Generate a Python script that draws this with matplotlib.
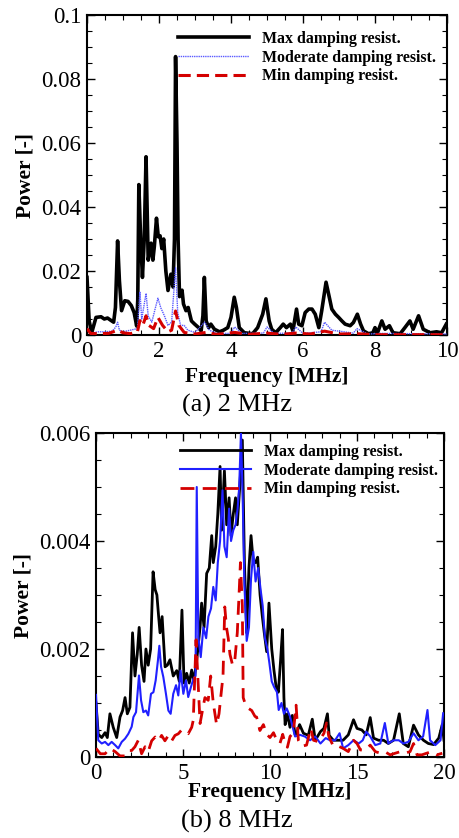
import matplotlib
matplotlib.use("Agg")
import matplotlib.pyplot as plt
from matplotlib.ticker import MultipleLocator

plt.rcParams['font.family'] = ['Liberation Serif', 'DejaVu Serif']

# ---------------- (a) 2 MHz excitation ----------------
a_max_f = [0.00, 0.06, 0.13, 0.25, 0.39, 0.48, 0.57, 0.66, 0.74, 0.79, 0.85, 0.90, 0.96,
           1.05, 1.14, 1.23, 1.31, 1.38, 1.41, 1.44, 1.49, 1.54, 1.59, 1.64, 1.70, 1.78,
           1.83, 1.87, 1.93, 1.98, 2.03, 2.08, 2.13, 2.19, 2.25, 2.33, 2.39, 2.43, 2.46,
           2.50, 2.53, 2.57, 2.64, 2.68, 2.75, 2.81, 2.90, 2.99, 3.10, 3.17, 3.22, 3.26,
           3.31, 3.38, 3.44, 3.54, 3.68, 3.79, 3.91, 4.00, 4.09, 4.15, 4.23, 4.37, 4.60,
           4.74, 4.88, 4.97, 5.06, 5.13, 5.24, 5.37, 5.45, 5.54, 5.65, 5.72, 5.82, 5.88,
           5.97, 6.06, 6.16, 6.25, 6.34, 6.44, 6.52, 6.64, 6.74, 6.80, 6.90, 6.99, 7.08,
           7.17, 7.31, 7.40, 7.51, 7.60, 7.68, 7.82, 7.94, 8.00, 8.07, 8.19, 8.28, 8.40,
           8.50, 8.70, 8.83, 8.97, 9.06, 9.21, 9.34, 9.53, 9.71, 9.85, 9.98]
a_max_p = [0.0180, 0.0044, 0.0007, 0.0055, 0.0057, 0.0050, 0.0053, 0.0046, 0.0040, 0.0086,
           0.0294, 0.0170, 0.0076, 0.0107, 0.0105, 0.0092, 0.0070, 0.0028, 0.0110, 0.0470,
           0.0300, 0.0180, 0.0300, 0.0557, 0.0234, 0.0287, 0.0234, 0.0276, 0.0365, 0.0307,
           0.0310, 0.0270, 0.0300, 0.0200, 0.0139, 0.0190, 0.0150, 0.0300, 0.0870, 0.0600,
           0.0300, 0.0120, 0.0140, 0.0097, 0.0076, 0.0086, 0.0044, 0.0034, 0.0023, 0.0013,
           0.0060, 0.0180, 0.0044, 0.0023, 0.0034, 0.0018, 0.0010, 0.0015, 0.0023, 0.0055,
           0.0118, 0.0086, 0.0023, 0.0007, 0.0004, 0.0023, 0.0065, 0.0113, 0.0044, 0.0018,
           0.0007, 0.0023, 0.0034, 0.0023, 0.0034, 0.0013, 0.0081, 0.0034, 0.0029, 0.0070,
           0.0081, 0.0081, 0.0065, 0.0023, 0.0076, 0.0165, 0.0113, 0.0081, 0.0065, 0.0055,
           0.0044, 0.0034, 0.0029, 0.0039, 0.0065, 0.0034, 0.0013, 0.0004, 0.0007, 0.0023,
           0.0007, 0.0044, 0.0018, 0.0029, 0.0007, 0.0004, 0.0023, 0.0044, 0.0018, 0.0060,
           0.0018, 0.0007, 0.0010, 0.0007, 0.0034]

a_mod_f = [0.00, 0.10, 0.30, 0.50, 0.70, 0.80, 0.85, 0.90, 1.00, 1.20, 1.40, 1.47, 1.52,
           1.64, 1.70, 1.80, 1.90, 1.97, 2.05, 2.15, 2.25, 2.35, 2.46, 2.52, 2.60, 2.70,
           2.80, 3.00, 3.27, 3.40, 3.60, 4.00, 4.10, 4.30, 4.90, 5.00, 5.20, 5.70, 5.80,
           6.00, 6.50, 6.60, 6.80, 7.40, 7.50, 7.80, 8.20, 9.20, 10.00]
a_mod_p = [0.0020, 0.0005, 0.0010, 0.0010, 0.0012, 0.0025, 0.0040, 0.0015, 0.0010, 0.0015,
           0.0020, 0.0135, 0.0050, 0.0130, 0.0060, 0.0040, 0.0085, 0.0115, 0.0085, 0.0060,
           0.0030, 0.0040, 0.0210, 0.0070, 0.0030, 0.0030, 0.0015, 0.0008, 0.0040, 0.0015,
           0.0005, 0.0005, 0.0025, 0.0005, 0.0006, 0.0025, 0.0005, 0.0006, 0.0025, 0.0005,
           0.0010, 0.0040, 0.0015, 0.0006, 0.0020, 0.0003, 0.0005, 0.0004, 0.0003]

a_min_f = [0.00, 0.10, 0.30, 0.60, 0.85, 1.00, 1.20, 1.40, 1.47, 1.55, 1.64, 1.72, 1.85,
           1.97, 2.10, 2.25, 2.35, 2.46, 2.55, 2.70, 3.00, 3.30, 3.60, 4.10, 4.50, 5.00,
           5.40, 5.80, 6.20, 6.60, 7.00, 7.50, 8.00, 9.00, 10.00]
a_min_p = [0.0020, 0.0005, 0.0004, 0.0005, 0.0015, 0.0007, 0.0004, 0.0010, 0.0045, 0.0030,
           0.0060, 0.0030, 0.0020, 0.0055, 0.0030, 0.0010, 0.0015, 0.0075, 0.0030, 0.0008,
           0.0003, 0.0008, 0.0002, 0.0008, 0.0002, 0.0006, 0.0002, 0.0006, 0.0003, 0.0012,
           0.0003, 0.0004, 0.0001, 0.0001, 0.0001]

# ---------------- (b) 8 MHz excitation ----------------
b_max_f = [0.00, 0.13, 0.33, 0.52, 0.65, 0.80, 0.99, 1.19, 1.38, 1.53, 1.67, 1.80, 1.95,
           2.10, 2.24, 2.37, 2.48, 2.62, 2.76, 2.87, 3.00, 3.14, 3.28, 3.40, 3.50, 3.60,
           3.68, 3.80, 3.97, 4.10, 4.25, 4.44, 4.64, 4.79, 4.94, 5.06, 5.21, 5.36, 5.50,
           5.63, 5.79, 5.98, 6.07, 6.21, 6.36, 6.51, 6.65, 6.74, 6.88, 7.00, 7.13, 7.22,
           7.38, 7.51, 7.65, 7.76, 7.89, 8.02, 8.12, 8.28, 8.41, 8.53, 8.66, 8.79, 8.91,
           9.04, 9.17, 9.29, 9.43, 9.56, 9.67, 9.81, 9.94, 10.10, 10.23, 10.35, 10.48,
           10.61, 10.72, 10.80, 10.87, 11.00, 11.15, 11.28, 11.44, 11.53, 11.70, 11.92,
           12.20, 12.43, 12.60, 12.90, 13.10, 13.30, 13.40, 13.64, 13.90, 14.20, 14.50,
           14.80, 15.00, 15.28, 15.53, 15.76, 15.95, 16.24, 16.53, 16.80, 17.10, 17.43,
           17.66, 17.95, 18.25, 18.53, 18.82, 19.10, 19.40, 19.70, 19.90, 20.00]
b_max_p = [0.00100, 0.00042, 0.00036, 0.00045, 0.00036, 0.00080, 0.00055, 0.00036, 0.00074,
           0.00086, 0.00110, 0.00080, 0.00092, 0.00230, 0.00150, 0.00190, 0.00240, 0.00170,
           0.00140, 0.00200, 0.00170, 0.00200, 0.00343, 0.00310, 0.00300, 0.00260, 0.00230,
           0.00260, 0.00167, 0.00170, 0.00180, 0.00150, 0.00160, 0.00140, 0.00272, 0.00137,
           0.00155, 0.00137, 0.00161, 0.00140, 0.00180, 0.00240, 0.00285, 0.00240, 0.00340,
           0.00350, 0.00410, 0.00360, 0.00390, 0.00450, 0.00538, 0.00420, 0.00530, 0.00430,
           0.00480, 0.00410, 0.00450, 0.00480, 0.00430, 0.00510, 0.00587, 0.00360, 0.00230,
           0.00350, 0.00410, 0.00360, 0.00360, 0.00370, 0.00300, 0.00260, 0.00230, 0.00195,
           0.00285, 0.00200, 0.00160, 0.00130, 0.00120, 0.00180, 0.00236, 0.00110, 0.00060,
           0.00080, 0.00055, 0.00077, 0.00042, 0.00044, 0.00060, 0.00044, 0.00040, 0.00070,
           0.00031, 0.00047, 0.00053, 0.00080, 0.00040, 0.00031, 0.00031, 0.00031, 0.00041,
           0.00069, 0.00053, 0.00050, 0.00041, 0.00073, 0.00035, 0.00031, 0.00031, 0.00025,
           0.00031, 0.00080, 0.00025, 0.00019, 0.00059, 0.00041, 0.00031, 0.00025, 0.00023,
           0.00035, 0.00060, 0.00031]

b_mod_f = [0.00, 0.13, 0.33, 0.52, 0.71, 0.90, 1.10, 1.28, 1.48, 1.67, 1.86, 2.05, 2.15,
           2.30, 2.47, 2.59, 2.72, 2.87, 3.00, 3.16, 3.30, 3.43, 3.56, 3.64, 3.74, 3.87,
           4.02, 4.16, 4.29, 4.44, 4.60, 4.73, 4.86, 5.02, 5.17, 5.30, 5.46, 5.60, 5.72,
           5.79, 5.88, 6.02, 6.17, 6.33, 6.46, 6.61, 6.74, 6.88, 7.00, 7.13, 7.27, 7.38,
           7.51, 7.65, 7.76, 7.89, 8.02, 8.14, 8.23, 8.33, 8.43, 8.53, 8.66, 8.79, 8.91,
           9.04, 9.17, 9.32, 9.46, 9.58, 9.71, 9.85, 9.96, 10.10, 10.23, 10.40, 10.50,
           10.66, 10.80, 10.96, 11.15, 11.44, 11.72, 12.00, 12.30, 12.60, 12.90, 13.20,
           13.45, 13.74, 14.00, 14.20, 14.50, 14.80, 15.10, 15.33, 15.53, 15.76, 16.05,
           16.34, 16.60, 16.80, 17.10, 17.40, 17.66, 17.95, 18.25, 18.53, 18.80, 19.05,
           19.20, 19.50, 19.80, 19.95]
b_mod_p = [0.00115, 0.00031, 0.00025, 0.00028, 0.00022, 0.00028, 0.00022, 0.00016, 0.00028,
           0.00034, 0.00043, 0.00056, 0.00074, 0.00083, 0.00151, 0.00105, 0.00083, 0.00086,
           0.00077, 0.00117, 0.00120, 0.00142, 0.00179, 0.00206, 0.00167, 0.00148, 0.00117,
           0.00086, 0.00080, 0.00117, 0.00133, 0.00114, 0.00160, 0.00117, 0.00142, 0.00111,
           0.00130, 0.00145, 0.00150, 0.00500, 0.00223, 0.00185, 0.00240, 0.00220, 0.00260,
           0.00275, 0.00315, 0.00290, 0.00360, 0.00400, 0.00494, 0.00390, 0.00370, 0.00460,
           0.00400, 0.00420, 0.00430, 0.00460, 0.00500, 0.00600, 0.00480, 0.00320, 0.00215,
           0.00240, 0.00330, 0.00380, 0.00325, 0.00350, 0.00310, 0.00280, 0.00220, 0.00200,
           0.00175, 0.00140, 0.00130, 0.00120, 0.00087, 0.00100, 0.00080, 0.00090, 0.00075,
           0.00038, 0.00041, 0.00038, 0.00031, 0.00038, 0.00025, 0.00035, 0.00031, 0.00031,
           0.00044, 0.00016, 0.00022, 0.00031, 0.00025, 0.00031, 0.00047, 0.00038, 0.00022,
           0.00025, 0.00063, 0.00025, 0.00031, 0.00031, 0.00025, 0.00028, 0.00044, 0.00031,
           0.00038, 0.00087, 0.00031, 0.00022, 0.00031, 0.00081]

b_min_f = [0.00, 0.25, 0.52, 0.80, 1.10, 1.38, 1.67, 1.86, 2.05, 2.24, 2.43, 2.62, 2.82,
           3.00, 3.20, 3.40, 3.60, 3.77, 3.96, 4.16, 4.35, 4.54, 4.73, 4.92, 5.10, 5.30,
           5.50, 5.59, 5.75, 5.88, 5.98, 6.17, 6.26, 6.45, 6.59, 6.74, 6.93, 7.07, 7.20,
           7.30, 7.40, 7.50, 7.60, 7.70, 7.85, 7.98, 8.12, 8.22, 8.30, 8.41, 8.46, 8.56,
           8.76, 8.95, 9.14, 9.23, 9.42, 9.62, 9.81, 10.00, 10.20, 10.40, 10.57, 10.73,
           10.87, 11.00, 11.15, 11.34, 11.50, 11.63, 11.82, 12.10, 12.34, 12.50, 12.80,
           13.10, 13.25, 13.38, 13.64, 13.93, 14.20, 14.50, 14.80, 15.00, 15.20, 15.48,
           15.76, 16.05, 16.34, 16.60, 16.90, 17.20, 17.50, 17.76, 18.05, 18.25, 18.45,
           18.73, 19.00, 19.30, 19.60, 19.90]
b_min_p = [0.00016, 0.00006, 0.00006, 0.00016, 0.00010, 0.00002, 0.00002, 0.00012, 0.00012,
           0.00019, 0.00031, 0.00006, 0.00019, 0.00010, 0.00030, 0.00037, 0.00030, 0.00040,
           0.00030, 0.00040, 0.00030, 0.00040, 0.00043, 0.00050, 0.00047, 0.00043, 0.00055,
           0.00068, 0.00217, 0.00130, 0.00062, 0.00095, 0.00110, 0.00105, 0.00150, 0.00100,
           0.00060, 0.00080, 0.00120, 0.00150, 0.00278, 0.00240, 0.00220, 0.00190, 0.00170,
           0.00180, 0.00230, 0.00300, 0.00360, 0.00280, 0.00110, 0.00100, 0.00090, 0.00086,
           0.00075, 0.00074, 0.00049, 0.00060, 0.00042, 0.00036, 0.00045, 0.00030, 0.00025,
           0.00042, 0.00025, 0.00018, 0.00038, 0.00045, 0.00096, 0.00031, 0.00020, 0.00022,
           0.00053, 0.00031, 0.00028, 0.00044, 0.00063, 0.00038, 0.00020, 0.00020, 0.00016,
           0.00010, 0.00031, 0.00025, 0.00013, 0.00013, 0.00022, 0.00010, 0.00007, 0.00010,
           0.00004, 0.00007, 0.00010, 0.00007, 0.00010, 0.00025, 0.00004, 0.00004, 0.00007,
           0.00010, 0.00004, 0.00007]

legend_labels = ["Max damping resist.", "Moderate damping resist.", "Min damping resist."]

W, H = 459, 838
fig = plt.figure(figsize=(W / 100, H / 100), dpi=100)
ax1 = fig.add_axes([87 / W, 1 - 335 / H, 360 / W, 320 / H])
ax2 = fig.add_axes([96 / W, 1 - 757 / H, 348 / W, 324 / H])

tick_fs = 16.5
label_fs = 15.5
leg_fs = 11.4
cap_fs = 19

# panel (a)
ax1.plot(a_max_f, a_max_p, color='black', lw=2.6, label=legend_labels[0], zorder=3)
ax1.plot(a_mod_f, a_mod_p, color='#5a5aff', lw=1.0, ls=(0, (1, 0.6)), label=legend_labels[1], zorder=4)
ax1.plot(a_min_f, a_min_p, color='#d40000', lw=2.2, ls=(0, (4, 2)), label=legend_labels[2], zorder=5)
ax1.set_xlim(0, 10)
ax1.set_ylim(0, 0.1)
ax1.set_xticks([0, 2, 4, 6, 8, 10])
ax1.set_xticklabels(['0', '2', '4', '6', '8', '10'])
ax1.xaxis.set_minor_locator(MultipleLocator(0.5))
ax1.set_yticks([0, 0.02, 0.04, 0.06, 0.08, 0.1])
ax1.set_yticklabels(['0', '0.02', '0.04', '0.06', '0.08', '0.1'])
ax1.yaxis.set_minor_locator(MultipleLocator(0.005))

# panel (b)
ax2.plot(b_max_f, b_max_p, color='black', lw=2.0, label=legend_labels[0], zorder=3)
ax2.plot(b_mod_f, b_mod_p, color='#2020ff', lw=1.5, label=legend_labels[1], zorder=4)
ax2.plot(b_min_f, b_min_p, color='#d40000', lw=2.0, ls=(0, (5, 3)), label=legend_labels[2], zorder=5)
ax2.set_xlim(0, 20)
ax2.set_ylim(0, 0.006)
ax2.set_xticks([0, 5, 10, 15, 20])
ax2.set_xticklabels(['0', '5', '10', '15', '20'])
ax2.xaxis.set_minor_locator(MultipleLocator(1))
ax2.set_yticks([0, 0.002, 0.004, 0.006])
ax2.set_yticklabels(['0', '0.002', '0.004', '0.006'])
ax2.yaxis.set_minor_locator(MultipleLocator(0.0005))

legend_anchor = {ax1: ((178 - 87) / 360, (335 - 31) / 320),
                 ax2: ((180 - 96) / 348, (757 - 444) / 324)}
xlabel_pad = {ax1: 4, ax2: -1}

for ax in (ax1, ax2):
    for s in ax.spines.values():
        s.set_linewidth(1.5)
    ax.tick_params(which='both', direction='in', top=True, right=True)
    ax.tick_params(which='major', length=6, width=1.0, labelsize=tick_fs, pad=4)
    ax.tick_params(which='minor', length=3.5, width=0.8)
    ax.set_xlabel('Frequency [MHz]', fontsize=label_fs, fontweight='bold',
                  labelpad=xlabel_pad[ax])
    ax.set_ylabel('Power [-]', fontsize=label_fs, fontweight='bold', labelpad=4)
    ax.legend(loc='upper left', bbox_to_anchor=legend_anchor[ax], frameon=False,
              prop={'size': leg_fs, 'weight': 'bold'}, handlelength=4.5,
              handletextpad=0.8, labelspacing=0.16, borderaxespad=0, borderpad=0)

fig.text(237 / W, 1 - 405 / H, '(a) 2 MHz', ha='center', va='center', fontsize=cap_fs)
fig.text(237 / W, 1 - 821 / H, '(b) 8 MHz', ha='center', va='center', fontsize=cap_fs)

fig.savefig('out.png', dpi=100)
